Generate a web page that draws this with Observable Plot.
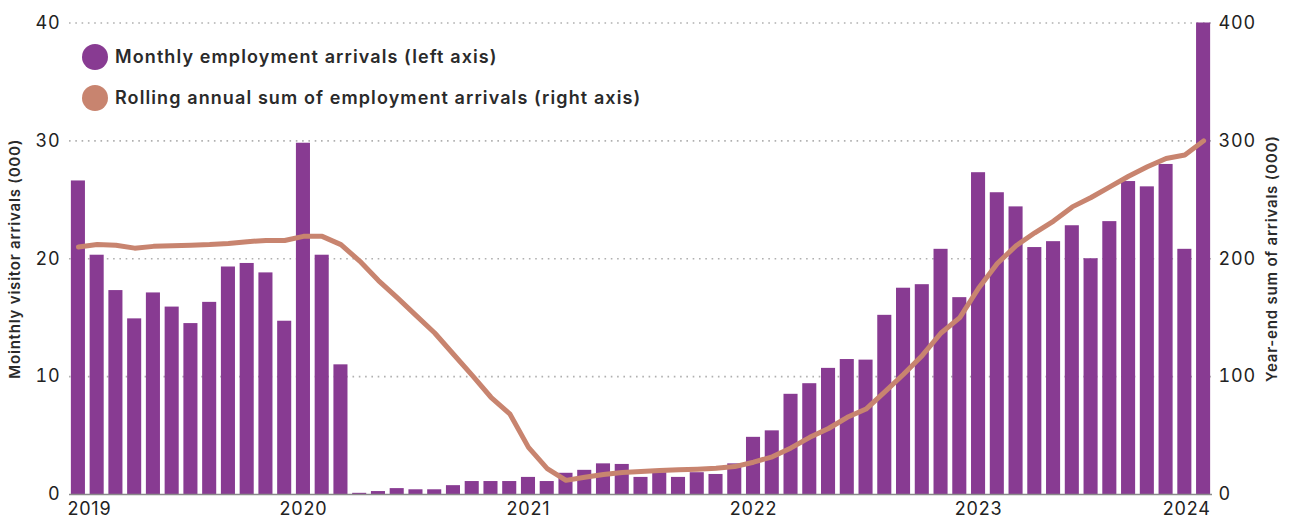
<!DOCTYPE html>
<html><head><meta charset="utf-8">
<script src="https://cdn.jsdelivr.net/npm/d3@7"></script>
<script src="https://cdn.jsdelivr.net/npm/@observablehq/plot@0.6"></script>
<style>
body{margin:0;background:#fff;}
#wrap{position:relative;width:1290px;height:522px;font-family:Inter, sans-serif;}
#wrap svg text{letter-spacing:0.8px;}
.legend{position:absolute;left:82px;top:36px;font-size:18px;font-weight:600;color:#2a2a2a;letter-spacing:1.1px;}
.legend .row{display:flex;align-items:center;height:41px;white-space:nowrap;}
.legend .dot{width:26px;height:26px;border-radius:50%;margin-right:7px;flex:none;}
</style></head><body><div id="wrap"></div>
<script>
const years = [2019, 2020, 2021, 2022, 2023, 2024];
const seriesNames = ["Monthly employment arrivals (left axis)", "Rolling annual sum of employment arrivals (right axis)"];
const seriesColors = ["#883B92", "#C8846F"];
const leftTicks = [0, 10, 20, 30, 40];
const rightTicks = [0, 100, 200, 300, 400];
const leftTitle = "Mointhly visitor arrivals (000)";
const rightTitle = "Year-end sum of arrivals (000)";
// Monthly employment arrivals (000), Jan 2019 .. Jan 2024
const monthly = [
  26.6, 20.3, 17.3, 14.9, 17.1, 15.9, 14.5, 16.3, 19.3, 19.6, 18.8, 14.7,
  29.8, 20.3, 11.0, 0.1, 0.25, 0.5, 0.4, 0.4, 0.75, 1.1, 1.1, 1.1,
  1.45, 1.1, 1.8, 2.05, 2.6, 2.55, 1.45, 1.85, 1.45, 1.85, 1.7, 2.6,
  4.85, 5.4, 8.5, 9.4, 10.7, 11.45, 11.4, 15.2, 17.5, 17.8, 20.8, 16.7,
  27.3, 25.6, 24.4, 20.95, 21.45, 22.8, 20.0, 23.15, 26.55, 26.1, 28.0, 20.8,
  40.0
];
// Rolling annual sum (000)
const rolling = [
  210, 212, 211.5, 209, 210.5, 211, 211.5, 212, 213, 214.5, 215.5, 215.5,
  219, 219, 212, 198, 181.5, 167, 152, 137, 119, 101, 82.5, 68.5,
  40, 22, 12, 14.7, 17, 18.7, 19.5, 20.4, 21, 21.5, 22.3, 23.7,
  27.4, 32, 39.5, 48.5, 56, 65.5, 72.5, 87, 102, 118, 137, 150,
  175, 196, 211, 222, 232, 244, 252, 261, 270, 278, 285, 288,
  300
];
const fmt = d3.utcFormat("%Y-%m");
const months = d3.utcMonth.range(new Date(Date.UTC(2019, 0, 1)), new Date(Date.UTC(2024, 1, 1))).map(fmt);
const rows = months.map((m, i) => ({month: m, monthly: monthly[i], rolling: rolling[i]}));
const yearTicks = years.map(y => `${y}-01`);
const ratio = 10; // right axis / left axis

const chart = Plot.plot({
  width: 1290, height: 522,
  marginLeft: 69, marginRight: 78, marginTop: 22.5, marginBottom: 28,
  style: {fontFamily: "Inter, sans-serif", fontSize: "17px", color: "#222", background: "transparent"},
  x: {type: "band", domain: months, paddingInner: 0.25, paddingOuter: 0.1, axis: null},
  y: {domain: [0, 40], axis: null},
  marks: [
    Plot.ruleY(leftTicks.filter(d => d > 0), {stroke: "#b0b0b0", strokeDasharray: "1.6,4.7", strokeWidth: 1.6}),
    Plot.barY(rows, {x: "month", y: "monthly", fill: seriesColors[0]}),
    Plot.ruleY([0], {stroke: "#8a8a8a", strokeWidth: 1.5}),
    Plot.lineY(rows, {x: "month", y: d => d.rolling / ratio, stroke: seriesColors[1], strokeWidth: 5}),
    Plot.axisY({anchor: "left", ticks: leftTicks, tickSize: 0, tickPadding: 9, label: null, fontSize: 18}),
    Plot.axisY({anchor: "right", ticks: rightTicks.map(d => d / ratio), tickFormat: d => d * ratio, tickSize: 0, tickPadding: 6, label: null, fontSize: 18}),
    Plot.text([yearTicks[0]], {x: d => d, text: d => d.slice(0, 4), frameAnchor: "bottom", dy: 20, dx: -11, textAnchor: "start", fontSize: 18}),
    Plot.text(yearTicks.slice(1, -1), {x: d => d, text: d => d.slice(0, 4), frameAnchor: "bottom", dy: 20, fontSize: 18}),
    Plot.text(yearTicks.slice(-1), {x: d => d, text: d => d.slice(0, 4), frameAnchor: "bottom", dy: 20, dx: 7, textAnchor: "end", fontSize: 18}),
    Plot.text([leftTitle], {frameAnchor: "left", dx: -54, rotate: -90, textAnchor: "middle", fontSize: 15, fontWeight: 600, fill: "#2a2a2a"}),
    Plot.text([rightTitle], {frameAnchor: "right", dx: 60, rotate: -90, textAnchor: "middle", fontSize: 15, fontWeight: 600, fill: "#2a2a2a"})
  ]
});
const wrap = document.getElementById("wrap");
wrap.appendChild(chart);
const legend = document.createElement("div");
legend.className = "legend";
seriesNames.forEach((name, i) => {
  const row = document.createElement("div");
  row.className = "row";
  const dot = document.createElement("span");
  dot.className = "dot";
  dot.style.background = seriesColors[i];
  const label = document.createElement("span");
  label.textContent = name;
  row.appendChild(dot);
  row.appendChild(label);
  legend.appendChild(row);
});
wrap.appendChild(legend);
</script>
</body></html>
